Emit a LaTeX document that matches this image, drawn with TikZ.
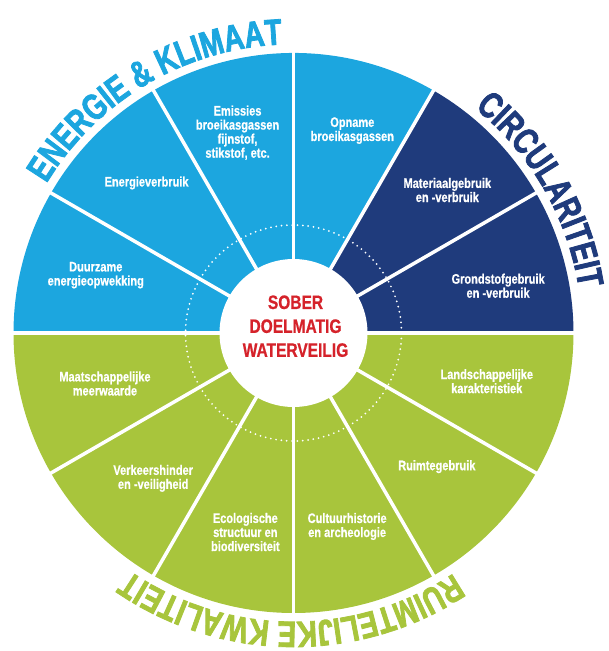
\documentclass[tikz,border=0pt]{standalone}
\usepackage{fontspec}
\setmainfont{Liberation Sans}
\newfontfamily\narrowfont[FakeStretch=0.8, FakeBold=0.7, UprightFont={* Bold}]{Liberation Sans}
\newfontfamily\heavyfont[FakeStretch=0.76, FakeBold=2.2, UprightFont={* Bold}]{Liberation Sans}
\usetikzlibrary{decorations.text}

\definecolor{sky}{RGB}{28,166,223}
\definecolor{navy}{RGB}{31,59,124}
\definecolor{lime}{RGB}{168,197,60}
\definecolor{alarm}{RGB}{213,34,42}
\newcommand{\titlefont}{\heavyfont\fontsize{26}{26}\selectfont}

\begin{document}
\begin{tikzpicture}[
        seg/.style = {text = white, align = center, inner sep = 0mm, font = \narrowfont\fontsize{9.8}{10}\selectfont},
        core/.style = {text = alarm, align = center, inner sep = 0mm, font = \narrowfont\fontsize{13.8}{17}\selectfont},
        gap/.style = {draw = white, line width = 2.5pt},
        ring/.style = {draw = white, line width = 1.4pt, line cap = round, dash pattern = on 0pt off 3.8pt},
        arctitle/.style = {decorate, decoration = {text along path, text align = center, text = {#1}}},
    ]
    \useasboundingbox (-7.3375, -7.95) rectangle (7.8625, 8.325);

    % wheel
    \fill[sky] (0, 0) -- (60:7) arc[start angle = 60, end angle = 180, radius = 7] -- cycle;
    \fill[navy] (0, 0) -- (0:7) arc[start angle = 0, end angle = 60, radius = 7] -- cycle;
    \fill[lime] (0, 0) -- (180:7) arc[start angle = 180, end angle = 360, radius = 7] -- cycle;
    \path[ring] (0, 0) circle[radius = 2.7];

    \path[gap] (0:7.1) -- (180:7.1);
    \path[gap] (30:7.1) -- (210:7.1);
    \path[gap] (60:7.1) -- (240:7.1);
    \path[gap] (90:7.1) -- (270:7.1);
    \path[gap] (120:7.1) -- (300:7.1);
    \path[gap] (150:7.1) -- (330:7.1);
    \fill[white] (0, 0) circle[radius = 1.85];

    \node (core) at (0.05, 0.17) [core] {SOBER\\DOELMATIG\\WATERVEILIG};

    % segments
    \node (duurzaam) at (163.7:5.15) [seg] {Duurzame\\energieopwekking};
    \node (energie) at (134.4:5.25) [seg] {Energieverbruik};
    \node (emissie) at (105.6:5.2) [seg] {Emissies\\broeikasgassen\\fijnstof,\\stikstof, etc.};
    \node (opname) at (73.8:5.27) [seg] {Opname\\broeikasgassen};
    \node (materiaal) at (42.9:5.25) [seg] {Materiaalgebruik\\en -verbruik};
    \node (grondstof) at (13:5.25) [seg] {Grondstofgebruik\\en -verbruik};
    \node (landschap) at (-14:4.98) [seg] {Landschappelijke\\karakteristiek};
    \node (ruimte) at (-43:4.9) [seg] {Ruimtegebruik};
    \node (cultuur) at (-74.5:5.02) [seg] {Cultuurhistorie\\en archeologie};
    \node (ecologie) at (-103.6:5.12) [seg] {Ecologische\\structuur en\\biodiversiteit};
    \node (verkeer) at (-134:5.05) [seg] {Verkeershinder\\en -veiligheid};
    \node (maatschappij) at (-165:4.88) [seg] {Maatschappelijke\\meerwaarde};

    % titles round the rim
    \path[arctitle = {|\titlefont\color{sky}|ENERGIE {\&} KLIMAAT}] (170.5:7.22) arc[start angle = 170.5, end angle = 70.5, radius = 7.22];
    \path[arctitle = {|\titlefont\color{navy}|CIRCULARITEIT}] (80:7.22) arc[start angle = 80, end angle = -20, radius = 7.22];
    \path[arctitle = {|\titlefont\color{lime}|RUIMTELIJKE KWALITEIT}] (-40.5:7.22) arc[start angle = -40.5, end angle = -140.5, radius = 7.22];
\end{tikzpicture}
\end{document}
